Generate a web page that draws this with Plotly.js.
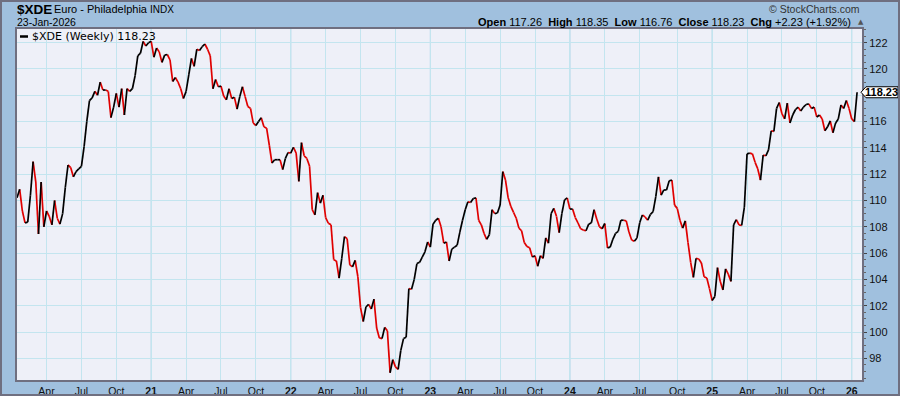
<!DOCTYPE html>
<html>
<head>
<meta charset="utf-8">
<script src="https://cdn.plot.ly/plotly-3.0.1.min.js"></script>
<style>
html,body{margin:0;padding:0;background:#a0c0de;}
#chart{width:900px;height:396px;}
</style>
</head>
<body>
<div id="chart"></div>
<script>
// ---- data ----
const symbol = '$XDE';
const seriesName = '$XDE (Weekly)';
const firstWeek = '2020-01-24';   // weekly closes (Fridays)
const closes = [
110.2,110.85,109.2,108.3,108.35,110.4,112.95,111.4,107.45,111.4,
108.0,109.2,108.8,108.15,110.0,108.65,108.2,109.0,111.0,112.7,
112.5,111.8,112.2,112.4,112.6,114.1,116.0,117.6,117.8,118.3,
118.0,119.0,118.4,118.4,118.3,116.3,117.1,118.15,117.1,118.5,
116.5,118.5,118.3,118.5,119.5,121.0,121.2,122.1,121.75,122.0,
122.1,120.9,121.6,121.3,120.5,121.05,121.1,120.7,119.05,119.35,
119.0,118.5,117.75,118.3,119.55,120.8,120.2,121.5,121.4,121.7,
121.9,121.5,121.0,118.5,119.2,118.65,118.7,117.95,117.65,118.5,
117.75,117.85,116.95,117.9,118.65,117.9,117.15,117.0,115.9,115.7,
116.0,116.3,115.6,115.5,114.2,112.85,113.1,113.1,113.1,112.35,
113.2,113.65,113.6,114.05,113.6,111.45,114.4,113.4,113.2,112.6,
109.3,108.9,110.6,109.8,110.4,108.7,108.27,108.15,105.5,105.4,
104.1,105.6,107.25,107.1,105.1,104.95,105.45,104.2,101.85,100.8,
101.9,102.1,101.75,102.5,100.3,99.55,99.5,100.35,100.1,96.9,
97.9,97.35,97.15,98.6,99.5,99.6,103.3,103.25,104.0,105.2,
105.3,105.7,106.1,106.85,106.45,108.2,108.5,108.65,108.0,106.75,
106.85,105.4,106.3,106.45,106.6,107.6,108.5,109.3,109.9,109.85,
110.15,110.2,108.5,108.15,107.5,107.05,107.4,109.3,109.0,109.05,
109.65,112.2,111.55,110.2,109.55,109.1,108.65,107.9,107.7,106.8,
106.5,106.4,105.7,105.8,105.0,105.8,105.6,107.15,106.75,109.0,
109.4,108.8,107.55,109.0,110.05,110.2,109.35,109.35,108.7,108.3,
107.85,107.75,107.7,108.2,108.3,109.3,108.6,108.0,107.85,108.25,
106.4,106.45,107.05,107.5,107.65,108.5,108.5,108.45,107.6,107.0,
106.9,107.15,108.3,108.9,108.75,108.5,108.95,109.15,110.3,111.8,
110.4,110.8,110.8,111.5,111.55,109.65,109.4,108.5,107.9,108.45,
106.8,105.3,104.15,105.6,105.55,105.25,104.2,104.1,103.3,102.4,
102.7,104.9,103.85,103.2,104.8,104.4,103.85,108.15,108.55,108.15,
108.1,109.5,113.55,113.6,113.55,112.9,112.4,111.55,113.45,113.4,
113.85,115.3,115.25,117.0,117.45,116.6,116.2,117.4,115.9,116.5,
116.9,117.1,116.8,117.1,117.3,117.35,117.0,117.1,116.35,116.5,
116.2,115.3,115.6,116.05,115.15,115.9,116.2,117.26,117.0,117.6,
117.0,116.2,116.0,118.23
];
const tickMonths = ['2020-04','2020-07','2020-10','2021-01','2021-04','2021-07','2021-10',
  '2022-01','2022-04','2022-07','2022-10','2023-01','2023-04','2023-07','2023-10',
  '2024-01','2024-04','2024-07','2024-10','2025-01','2025-04','2025-07','2025-10','2026-01'];
const tickLabels = ['Apr','Jul','Oct','21','Apr','Jul','Oct','22','Apr','Jul','Oct','23',
  'Apr','Jul','Oct','24','Apr','Jul','Oct','25','Apr','Jul','Oct','26'];
const yTicks = [98,100,102,104,106,108,110,112,114,116,118,120,122];
const headerDate = '23-Jan-2026';
const ohlc = {Open:'117.26', High:'118.35', Low:'116.76', Close:'118.23'};
const chgText = '+2.23 (+1.92%)';

// ---- build ----
const DAY = 864e5;
const t0 = Date.parse(firstWeek + 'T00:00:00Z');
const dates = closes.map((_, i) => new Date(t0 + i * 7 * DAY).toISOString().slice(0, 10));

const up = {x: [], y: []}, dn = {x: [], y: []};
for (let k = 1; k < closes.length; k++) {
  const tgt = closes[k] >= closes[k - 1] ? up : dn;
  tgt.x.push(dates[k - 1], dates[k], null);
  tgt.y.push(closes[k - 1], closes[k], null);
}

// tick position: Friday of the first week whose Monday falls in the month
const tickVals = tickMonths.map(m => {
  const d = new Date(m + '-01T00:00:00Z');
  const dow = d.getUTCDay();
  const toMon = (8 - dow) % 7;
  return new Date(d.getTime() + (toMon + 4) * DAY).toISOString().slice(0, 10);
});
const tickText = tickLabels.map(s => /^\d+$/.test(s) ? '<b>' + s + '</b>' : s);

const W = 900, H = 396, L = 17, R = 38, T = 29, B = 16;
const pw = W - L - R, ph = H - T - B;
const px = p => (p - L) / pw;
const py = p => (H - B - p) / ph;
const yMin = 96.35, yMax = 123.04;
const last = closes[closes.length - 1];
const lastPaper = (last - yMin) / (yMax - yMin);
// the last-price tag hides the nearest round label
const yText = yTicks.map(v => Math.abs(v - last) < 1 ? '' : String(v));

const traces = [
  {x: dn.x, y: dn.y, mode: 'lines', line: {color: '#e00000', width: 1.7}, hoverinfo: 'skip', showlegend: false, connectgaps: false},
  {x: up.x, y: up.y, mode: 'lines', line: {color: '#000000', width: 1.7}, hoverinfo: 'skip', showlegend: false, connectgaps: false}
];

const shapes = [];
// stronger year grid lines
tickVals.forEach((v, i) => {
  if (/^\d+$/.test(tickLabels[i])) {
    shapes.push({type: 'line', xref: 'x', yref: 'paper', x0: v, x1: v, y0: 0, y1: 1,
      line: {color: '#9ccfe3', width: 1}, layer: 'below'});
  }
});
// legend dash
shapes.push({type: 'line', xref: 'paper', yref: 'paper', x0: px(20), x1: px(28), y0: py(36.5), y1: py(36.5),
  line: {color: '#000', width: 2.5}});
// last price tag
const hh = 5.5 / ph;
shapes.push({type: 'path', xref: 'paper', yref: 'paper',
  path: `M ${px(861)} ${lastPaper} L ${px(866)} ${lastPaper + hh} L ${px(898)} ${lastPaper + hh} L ${px(898)} ${lastPaper - hh} L ${px(866)} ${lastPaper - hh} Z`,
  fillcolor: '#ffffff', line: {color: '#000', width: 1}});
// outer frame
shapes.push({type: 'rect', xref: 'paper', yref: 'paper', x0: px(1), x1: px(899), y0: py(395), y1: py(1),
  line: {color: '#6f6f80', width: 2}, fillcolor: 'rgba(0,0,0,0)'});

const F = 'Liberation Sans, Arial, sans-serif';
const ann = [
  {text: '<b>' + symbol + '</b>', x: px(15), y: py(10), xanchor: 'left', yanchor: 'middle',
   font: {family: F, size: 13.5, color: '#000'}},
  {text: 'Euro - Philadelphia <span style="font-size:10px">INDX</span>', x: px(52), y: py(9.5), xanchor: 'left', yanchor: 'middle',
   font: {family: F, size: 11, color: '#000'}},
  {text: headerDate, x: px(15), y: py(22.5), xanchor: 'left', yanchor: 'middle',
   font: {family: F, size: 10.5, color: '#000'}},
  {text: '© StockCharts.com', x: px(862), y: py(9), xanchor: 'right', yanchor: 'middle',
   font: {family: F, size: 10.5, color: '#333'}},
  {text: Object.keys(ohlc).map(k => '<b>' + k + '</b> ' + ohlc[k]).join('  ') + '  <b>Chg</b> ' + chgText,
   x: px(853), y: py(22), xanchor: 'right', yanchor: 'middle',
   font: {family: F, size: 11, color: '#000'}},
  {text: '▲', x: px(856), y: py(22), xanchor: 'left', yanchor: 'middle',
   font: {family: 'DejaVu Sans', size: 7, color: '#555'}},
  {text: seriesName + ' ' + last.toFixed(2), x: px(30), y: py(36.5), xanchor: 'left', yanchor: 'middle',
   font: {family: 'DejaVu Sans, sans-serif', size: 11, color: '#000'}},
  {text: '<b>' + last.toFixed(2) + '</b>', x: px(882), y: lastPaper, xanchor: 'center', yanchor: 'middle',
   font: {family: F, size: 11, color: '#000'}}
].map(a => Object.assign({xref: 'paper', yref: 'paper', showarrow: false}, a));

const endDate = new Date(t0 + 2203.8 * DAY).toISOString();

const layout = {
  width: W, height: H,
  margin: {l: L, r: R, t: T, b: B, pad: 0},
  paper_bgcolor: '#a0c0de',
  plot_bgcolor: '#eef0f8',
  showlegend: false,
  xaxis: {
    type: 'date', range: [firstWeek, endDate],
    tickmode: 'array', tickvals: tickVals, ticktext: tickText,
    showgrid: true, gridcolor: '#c3e5ef', gridwidth: 1,
    ticks: '', tickfont: {family: F, size: 10.5, color: '#111'},
    showline: true, mirror: true, linecolor: '#6f6f80', linewidth: 2,
    zeroline: false, fixedrange: true
  },
  yaxis: {
    side: 'right', range: [yMin, yMax],
    tickmode: 'array', tickvals: yTicks, ticktext: yText,
    showgrid: true, gridcolor: '#c3e5ef', gridwidth: 1,
    ticks: 'outside', ticklen: 3, tickcolor: '#444', tickwidth: 1,
    minor: {dtick: 0.5, ticks: 'outside', ticklen: 2, tickcolor: '#666', showgrid: false},
    tickfont: {family: F, size: 11, color: '#111'},
    showline: true, mirror: true, linecolor: '#6f6f80', linewidth: 2,
    zeroline: false, fixedrange: true
  },
  shapes: shapes,
  annotations: ann
};

Plotly.newPlot('chart', traces, layout, {staticPlot: true, displayModeBar: false});
</script>
</body>
</html>
